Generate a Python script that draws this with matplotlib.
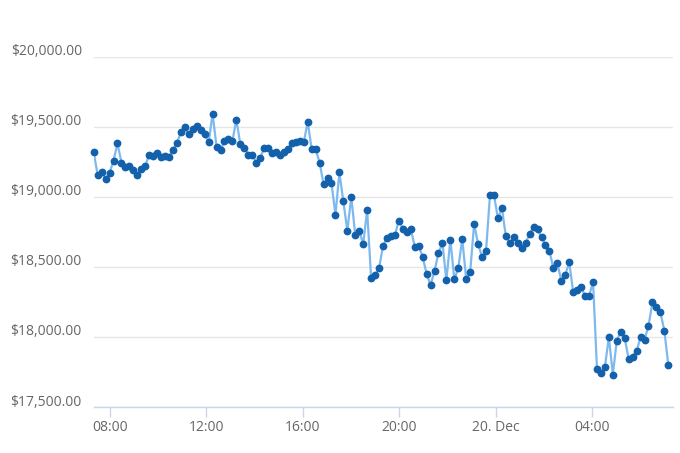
import matplotlib
matplotlib.use('Agg')
import matplotlib.pyplot as plt
import matplotlib.dates as mdates
import matplotlib.transforms as mtransforms
import pandas as pd

prices = [
    19319, 19155, 19179, 19129, 19171, 19259, 19381, 19245, 19212, 19219,
    19188, 19157, 19202, 19221, 19302, 19293, 19312, 19286, 19295, 19286,
    19336, 19383, 19462, 19495, 19445, 19483, 19505, 19479, 19445, 19388,
    19593, 19357, 19333, 19398, 19414, 19398, 19550, 19376, 19348, 19302,
    19302, 19245, 19276, 19350, 19350, 19312, 19319, 19298, 19317, 19343,
    19383, 19393, 19398, 19388, 19536, 19340, 19340, 19245, 19090, 19131,
    19100, 18871, 19174, 18969, 18759, 19000, 18726, 18759, 18662, 18905,
    18424, 18440, 18490, 18648, 18709, 18721, 18726, 18831, 18774, 18748,
    18774, 18645, 18652, 18571, 18452, 18369, 18471, 18598, 18671, 18405,
    18693, 18412, 18490, 18702, 18412, 18462, 18809, 18662, 18571, 18614,
    19012, 19012, 18848, 18919, 18721, 18669, 18712, 18671, 18638, 18669,
    18736, 18788, 18767, 18712, 18655, 18614, 18490, 18526, 18402, 18443,
    18533, 18319, 18336, 18355, 18293, 18290, 18395, 17774, 17740, 17788,
    17998, 17731, 17974, 18038, 17990, 17843, 17859, 17900, 17998, 17981,
    18079, 18248, 18217, 18176, 18045, 17802,
]
start_time = '2017-12-19 07:19:24'
end_time = '2017-12-20 07:10:00'
x_max = '2017-12-20 07:21:40'

tick_times = ['2017-12-19 08:00', '2017-12-19 12:00', '2017-12-19 16:00',
              '2017-12-19 20:00', '2017-12-20 00:00', '2017-12-20 04:00']
tick_labels = ['08:00', '12:00', '16:00', '20:00', '20. Dec', '04:00']
y_ticks = [17500, 18000, 18500, 19000, 19500, 20000]
y_labels = ['$17,500.00', '$18,000.00', '$18,500.00', '$19,000.00',
            '$19,500.00', '$20,000.00']

times = pd.date_range(start_time, end_time, periods=len(prices))

plt.rcParams['font.family'] = ['Open Sans', 'DejaVu Sans']

fig = plt.figure(figsize=(6.8, 4.53), dpi=100)
ax = fig.add_axes([0.1378, 0.1015, 0.8519, 0.7733])

ax.plot(times, prices, color='#7db9ef', lw=1.6, zorder=2)
ax.plot(times, prices, linestyle='none', marker='o', color='#1461ab',
        ms=4.6, zorder=3, clip_on=False)

ax.set_ylim(17500, 20000)
ax.set_xlim(mdates.date2num(pd.Timestamp(start_time)),
            mdates.date2num(pd.Timestamp(x_max)))

ax.set_yticks(y_ticks)
ax.set_yticklabels(y_labels)
ax.set_xticks(pd.to_datetime(tick_times))
ax.set_xticklabels(tick_labels)

for s in ['top', 'right', 'left']:
    ax.spines[s].set_visible(False)
ax.spines['bottom'].set_color('#ccd6eb')
ax.spines['bottom'].set_linewidth(1)

ax.tick_params(axis='x', length=7.2, width=1, color='#ccd6eb',
               labelcolor='#666666', labelsize=10, pad=2)
ax.tick_params(axis='y', length=0, labelcolor='#666666', labelsize=10, pad=8.6)

ax.yaxis.grid(True, color='#e6e6e6', lw=1)
ax.set_axisbelow(True)

offset = mtransforms.ScaledTranslation(0, 0.07, fig.dpi_scale_trans)
for lbl in ax.get_yticklabels():
    lbl.set_transform(lbl.get_transform() + offset)

fig.savefig('out.png', dpi=100)
